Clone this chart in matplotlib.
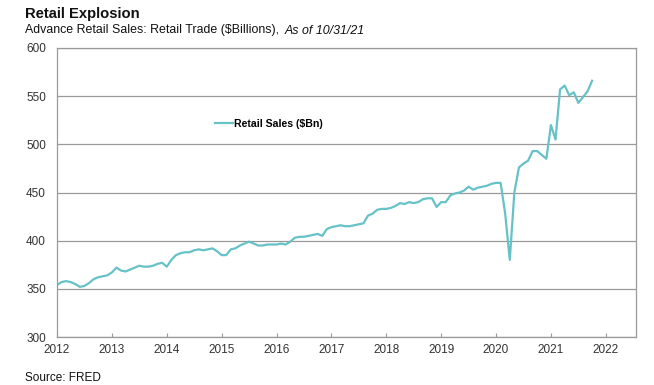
import numpy as np
import matplotlib
matplotlib.use("Agg")
import matplotlib.pyplot as plt

# monthly retail sales ($Bn), Jan 2012 - Oct 2021
sales_2012 = [354, 357, 358, 357, 355, 352, 353, 356, 360, 362, 363, 364]
sales_2013 = [367, 372, 369, 368, 370, 372, 374, 373, 373, 374, 376, 377]
sales_2014 = [373, 380, 385, 387, 388, 388, 390, 391, 390, 391, 392, 389]
sales_2015 = [385, 385, 391, 392, 395, 397, 399, 397, 395, 395, 396, 396]
sales_2016 = [396, 397, 396, 399, 403, 404, 404, 405, 406, 407, 405, 412]
sales_2017 = [414, 415, 416, 415, 415, 416, 417, 418, 426, 428, 432, 433]
sales_2018 = [433, 434, 436, 439, 438, 440, 439, 440, 443, 444, 444, 435]
sales_2019 = [440, 440, 447, 449, 450, 452, 456, 453, 455, 456, 457, 459]
sales_2020 = [460, 460, 428, 380, 450, 476, 480, 483, 493, 493, 489, 485]
sales_2021 = [520, 505, 557, 561, 551, 554, 543, 549, 555, 566]

sales = np.array(sales_2012 + sales_2013 + sales_2014 + sales_2015 + sales_2016 +
                 sales_2017 + sales_2018 + sales_2019 + sales_2020 + sales_2021)
t = 2012 + np.arange(len(sales)) / 12.0

years = list(range(2012, 2023))
yticks = [300, 350, 400, 450, 500, 550, 600]

plt.rcParams['font.family'] = ['Liberation Sans', 'DejaVu Sans']

fig = plt.figure(figsize=(6.54, 3.85), dpi=100)
ax = fig.add_axes([57/654, 48/385, 579/654, 289/385])

ax.plot(t, sales, color='#66C2C6', lw=1.6, label='Retail Sales ($Bn)')

ax.set_xlim(2012, 2022.55)
ax.set_ylim(300, 600)
ax.set_xticks(years)
ax.set_xticklabels([str(y) for y in years])
ax.set_yticks(yticks)
ax.grid(axis='y', color='#9a9a9a', lw=0.9)
ax.set_axisbelow(True)
for s in ax.spines.values():
    s.set_color('#9a9a9a')
    s.set_linewidth(0.9)
ax.tick_params(axis='x', direction='in', length=3, color='#9a9a9a',
               labelsize=8.5, labelcolor='#333333', pad=5)
ax.tick_params(axis='y', length=0, labelsize=8.5, labelcolor='#333333', pad=8)

leg = ax.legend(loc='center left', bbox_to_anchor=((210-57)/579, (337-124)/289),
                frameon=False, handlelength=1.7, handletextpad=0.1, borderpad=0,
                prop={'family': ['Liberation Sans Narrow', 'Liberation Sans'],
                      'weight': 'bold', 'size': 7.6})

x0 = 25/654
fig.text(x0, 1 - 18/385, 'Retail Explosion', fontsize=10.6, fontweight='bold',
         va='baseline', ha='left', color='#111111')
sub = fig.text(x0, 1 - 33.5/385, 'Advance Retail Sales: Retail Trade ($Billions), ',
               fontsize=8.95, va='baseline', ha='left', color='#111111')
fig.canvas.draw()
bb = sub.get_window_extent(renderer=fig.canvas.get_renderer())
fig.text(bb.x1 / fig.bbox.width + 2/654, 1 - 33.5/385, 'As of 10/31/21', fontsize=8.95,
         style='italic', va='baseline', ha='left', color='#111111')
fig.text(x0, 1 - 381/385, 'Source: FRED', fontsize=8.5, va='baseline', ha='left',
         color='#111111')

fig.savefig('out.png', dpi=100)
